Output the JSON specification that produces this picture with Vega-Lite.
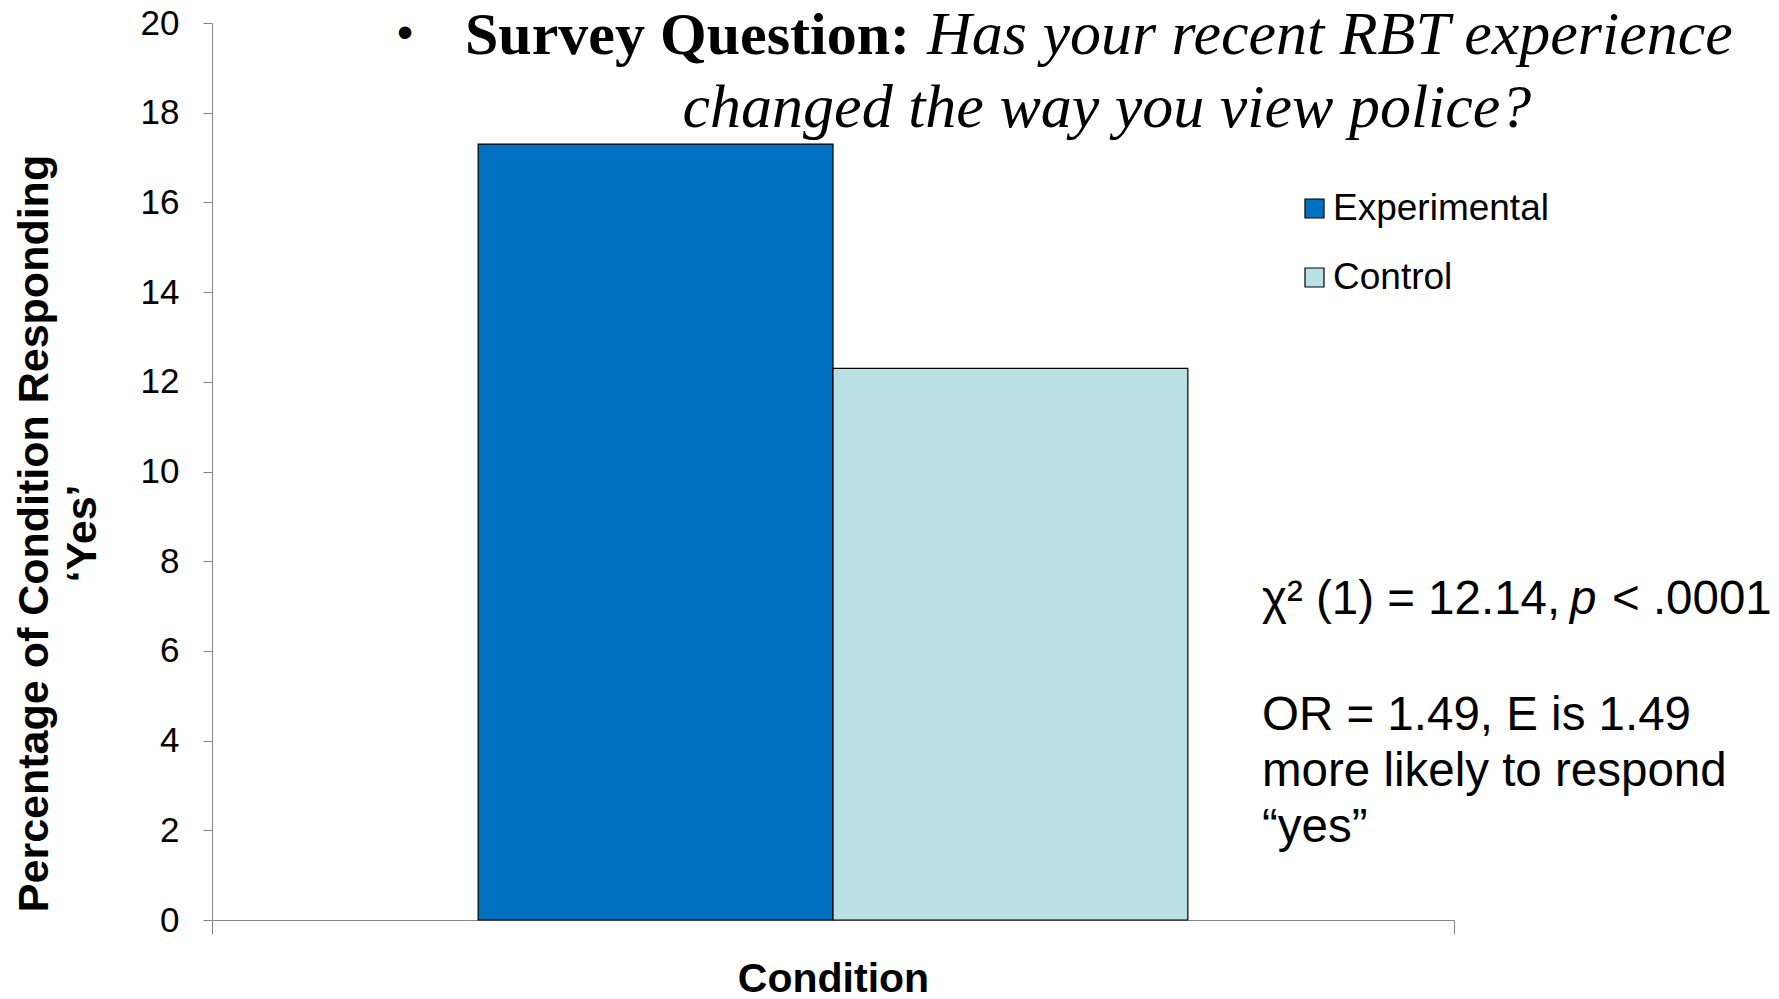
{
  "$schema": "https://vega.github.io/schema/vega-lite/v6.json",
  "width": 1242,
  "height": 897,
  "autosize": {"type": "none"},
  "padding": {"left": 212, "top": 23, "right": 325, "bottom": 79},
  "background": "white",
  "config": {
    "view": {"stroke": null},
    "font": "Liberation Sans",
    "axis": {"grid": false, "domainColor": "#868686", "tickColor": "#868686", "labelColor": "black", "titleColor": "black", "labelFont": "Liberation Sans", "titleFont": "Liberation Sans"}
  },
  "layer": [
    {
      "data": {"values": [
        {"condition": "Condition", "group": "Experimental", "pct": 17.3},
        {"condition": "Condition", "group": "Control", "pct": 12.3}
      ]},
      "mark": {"type": "bar", "stroke": "black", "strokeWidth": 1.2},
      "encoding": {
        "x": {"field": "condition", "type": "nominal",
              "scale": {"paddingInner": 0, "paddingOuter": 0},
              "axis": {"labels": false, "tickBand": "extent", "tickSize": 14, "title": "Condition", "titleFontSize": 41, "titleFontWeight": "bold", "titleY": 59, "titleBaseline": "middle"}},
        "xOffset": {"field": "group", "type": "nominal", "sort": ["Experimental", "Control"], "scale": {"paddingInner": 0, "paddingOuter": 0.75}},
        "y": {"field": "pct", "type": "quantitative",
              "scale": {"domain": [0, 20], "nice": false},
              "axis": {"values": [0, 2, 4, 6, 8, 10, 12, 14, 16, 18, 20], "tickSize": 9, "labelPadding": 24, "labelFontSize": 35,
                       "title": ["Percentage of Condition Responding", "‘Yes’"], "titleFontSize": 43, "titleFontWeight": "bold", "titleLineHeight": 48,
                       "titleAngle": -90, "titleX": -178, "titleY": 510, "titleAlign": "center", "titleBaseline": "middle"}},
        "color": {"field": "group", "type": "nominal", "sort": ["Experimental", "Control"],
                  "scale": {"domain": ["Experimental", "Control"], "range": ["#0070C0", "#B9E0E3"]},
                  "legend": {"title": null, "orient": "none", "legendX": 1084, "legendY": 167, "symbolType": "square", "symbolSize": 361,
                             "symbolStrokeColor": "black", "symbolStrokeWidth": 1.2, "labelFontSize": 37, "labelFont": "Liberation Sans", "labelColor": "black",
                             "labelOffset": 0, "labelLimit": 0, "rowPadding": 31}}
      }
    },
    {
      "data": {"values": [{"label": "•"}]},
      "mark": {"type": "text", "font": "Liberation Sans", "fontSize": 46, "align": "center", "baseline": "middle", "color": "black"},
      "encoding": {"x": {"datum": "Condition", "bandPosition": 0.1554}, "y": {"datum": 19.75}, "text": {"field": "label"}}
    },
    {
      "data": {"values": [{"label": "Survey Question:"}]},
      "mark": {"type": "text", "font": "Liberation Serif", "fontWeight": "bold", "fontSize": 60, "align": "left", "baseline": "alphabetic", "color": "black"},
      "encoding": {"x": {"datum": "Condition", "bandPosition": 0.2037}, "y": {"datum": 19.31}, "text": {"field": "label"}}
    },
    {
      "data": {"values": [{"label": "Has your recent RBT experience"}]},
      "mark": {"type": "text", "font": "Liberation Serif", "fontStyle": "italic", "fontSize": 62, "align": "left", "baseline": "alphabetic", "color": "black"},
      "encoding": {"x": {"datum": "Condition", "bandPosition": 0.5757}, "y": {"datum": 19.31}, "text": {"field": "label"}}
    },
    {
      "data": {"values": [{"label": "changed the way you view police?"}]},
      "mark": {"type": "text", "font": "Liberation Serif", "fontStyle": "italic", "fontSize": 62, "align": "center", "baseline": "alphabetic", "color": "black"},
      "encoding": {"x": {"datum": "Condition", "bandPosition": 0.7206}, "y": {"datum": 17.68}, "text": {"field": "label"}}
    },
    {
      "data": {"values": [{"label": "χ² (1) = 12.14,"}]},
      "mark": {"type": "text", "font": "Liberation Sans", "fontSize": 47.5, "align": "left", "baseline": "alphabetic", "color": "black"},
      "encoding": {"x": {"datum": "Condition", "bandPosition": 0.8454}, "y": {"datum": 6.823}, "text": {"field": "label"}}
    },
    {
      "data": {"values": [{"label": "p"}]},
      "mark": {"type": "text", "font": "Liberation Sans", "fontStyle": "italic", "fontSize": 47.5, "align": "left", "baseline": "alphabetic", "color": "black"},
      "encoding": {"x": {"datum": "Condition", "bandPosition": 1.0934}, "y": {"datum": 6.823}, "text": {"field": "label"}}
    },
    {
      "data": {"values": [{"label": "< .0001"}]},
      "mark": {"type": "text", "font": "Liberation Sans", "fontSize": 47.5, "align": "left", "baseline": "alphabetic", "color": "black"},
      "encoding": {"x": {"datum": "Condition", "bandPosition": 1.1272}, "y": {"datum": 6.823}, "text": {"field": "label"}}
    },
    {
      "data": {"values": [{"label": "OR = 1.49, E is 1.49"}]},
      "mark": {"type": "text", "font": "Liberation Sans", "fontSize": 47.5, "align": "left", "baseline": "alphabetic", "color": "black"},
      "encoding": {"x": {"datum": "Condition", "bandPosition": 0.8454}, "y": {"datum": 4.247}, "text": {"field": "label"}}
    },
    {
      "data": {"values": [{"label": "more likely to respond"}]},
      "mark": {"type": "text", "font": "Liberation Sans", "fontSize": 47.5, "align": "left", "baseline": "alphabetic", "color": "black"},
      "encoding": {"x": {"datum": "Condition", "bandPosition": 0.8454}, "y": {"datum": 2.988}, "text": {"field": "label"}}
    },
    {
      "data": {"values": [{"label": "“yes”"}]},
      "mark": {"type": "text", "font": "Liberation Sans", "fontSize": 47.5, "align": "left", "baseline": "alphabetic", "color": "black"},
      "encoding": {"x": {"datum": "Condition", "bandPosition": 0.8454}, "y": {"datum": 1.739}, "text": {"field": "label"}}
    }
  ]
}
